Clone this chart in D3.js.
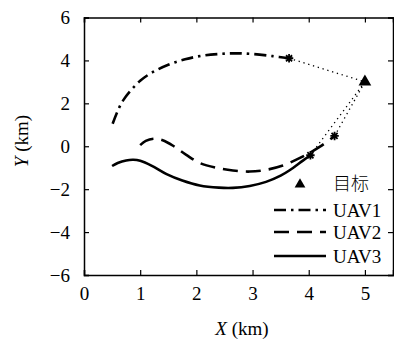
<!DOCTYPE html>
<html>
<head>
<meta charset="utf-8">
<script src="https://cdn.jsdelivr.net/npm/d3@7"></script>
<style>
  html, body { margin: 0; padding: 0; background: #fff; }
  svg { display: block; }
</style>
</head>
<body>
<div id="chart"></div>
<script>
// trajectories (km)
const uav1 = [[0.51,1.05],[0.6,1.65],[0.7,2.15],[0.85,2.65],[1.0,3.05],[1.2,3.42],[1.5,3.8],[1.8,4.05],[2.1,4.22],[2.4,4.3],[2.7,4.33],[3.0,4.3],[3.36,4.2],[3.65,4.1]];
const uav2 = [[1.0,0.05],[1.1,0.25],[1.25,0.35],[1.4,0.28],[1.6,0.0],[1.82,-0.4],[2.06,-0.78],[2.35,-1.0],[2.65,-1.13],[2.95,-1.18],[3.24,-1.1],[3.54,-0.9],[3.78,-0.62],[4.0,-0.33],[4.2,-0.02],[4.46,0.48]];
const uav3 = [[0.5,-0.92],[0.6,-0.78],[0.75,-0.66],[0.88,-0.63],[1.0,-0.68],[1.2,-0.9],[1.47,-1.3],[1.75,-1.6],[2.06,-1.83],[2.4,-1.93],[2.65,-1.94],[2.95,-1.85],[3.24,-1.66],[3.5,-1.37],[3.66,-1.12],[3.89,-0.68],[4.03,-0.42]];
const target = [5.0, 3.0];
const xTicks = [0, 1, 2, 3, 4, 5];
const yTicks = [-6, -4, -2, 0, 2, 4, 6];
const seriesNames = ['UAV1', 'UAV2', 'UAV3'];
const targetName = '目标';

const W = 394, H = 340;
const serif = '"Liberation Serif", serif';
const svg = d3.select('#chart').append('svg')
  .attr('width', W).attr('height', H)
  .style('font-family', serif);

const x = d3.scaleLinear().domain([0, 5.5]).range([84, 393]);
const y = d3.scaleLinear().domain([-6, 6]).range([275, 17.5]);

const tickFmt = d => d < 0 ? '\u2212' + Math.abs(d) : String(d);

// axes (ticks inward, mirrored on top and right)
svg.append('g').attr('transform', `translate(0,${y(-6)})`)
  .call(d3.axisBottom(x).tickValues(xTicks).tickSize(-5).tickPadding(12).tickFormat(tickFmt));
svg.append('g').attr('transform', `translate(0,${y(6)})`)
  .call(d3.axisTop(x).tickValues(xTicks).tickSize(-5).tickFormat(''));
svg.append('g').attr('transform', `translate(${x(0)},0)`)
  .call(d3.axisLeft(y).tickValues(yTicks).tickSize(-5).tickPadding(14).tickFormat(tickFmt));
svg.append('g').attr('transform', `translate(${x(5.5)},0)`)
  .call(d3.axisRight(y).tickValues(yTicks).tickSize(-5).tickFormat(''));

svg.selectAll('g').attr('font-family', serif);
svg.selectAll('.domain').attr('stroke', '#000').attr('stroke-width', 1.5);
svg.selectAll('.tick line').attr('stroke', '#000').attr('stroke-width', 1.2);
svg.selectAll('.tick text').attr('fill', '#000').style('font-size', '19px').style('font-family', serif);

// axis titles
svg.append('text').attr('x', 242).attr('y', 335).attr('text-anchor', 'middle')
  .style('font-size', '19px')
  .html('<tspan font-style="italic">X</tspan> (km)');
svg.append('text').attr('transform', 'translate(28,141) rotate(-90)').attr('text-anchor', 'middle')
  .style('font-size', '19px')
  .html('<tspan font-style="italic">Y</tspan> (km)');

const line = d3.line().x(d => x(d[0])).y(d => y(d[1])).curve(d3.curveCatmullRom.alpha(0.5));

// dotted links from each end point to the target
[uav1, uav2, uav3].forEach(s => {
  svg.append('path').attr('d', d3.line()([[x(s[s.length-1][0]), y(s[s.length-1][1])], [x(target[0]), y(target[1])]]))
    .attr('fill', 'none').attr('stroke', '#000').attr('stroke-width', 1.3)
    .attr('stroke-dasharray', '1.3,3.7');
});

const dashes = ['12,5,2.5,5', '15,8', null];
[uav1, uav2, uav3].forEach((s, i) => {
  svg.append('path').datum(s).attr('d', line)
    .attr('fill', 'none').attr('stroke', '#000').attr('stroke-width', 2.6)
    .attr('stroke-dasharray', dashes[i]);
});

// asterisk end markers
function star(g, cx, cy, r) {
  const a = r * 0.72;
  g.append('path')
    .attr('d', `M${cx-r},${cy}H${cx+r}M${cx},${cy-r}V${cy+r}M${cx-a},${cy-a}L${cx+a},${cy+a}M${cx-a},${cy+a}L${cx+a},${cy-a}`)
    .attr('stroke', '#000').attr('stroke-width', 1.8);
}
[uav1, uav2, uav3].forEach(s => {
  const p = s[s.length - 1];
  star(svg, x(p[0]), y(p[1]), 4.2);
});

// target
const tri = d3.symbol().type(d3.symbolTriangle);
svg.append('path').attr('d', tri.size(70)())
  .attr('transform', `translate(${x(target[0])},${y(target[1])})`).attr('fill', '#000');

// legend
const lg = svg.append('g');
lg.append('path').attr('d', tri.size(50)()).attr('transform', 'translate(300,184.5)').attr('fill', '#000');
lg.append('text').attr('x', 333).attr('y', 190).text(targetName)
  .style('font-family', '"Noto Sans CJK SC", sans-serif').style('font-size', '18px').style('font-weight', 300);
const ly = [210, 232, 256];
seriesNames.forEach((n, i) => {
  lg.append('line').attr('x1', 274).attr('x2', 326).attr('y1', ly[i]).attr('y2', ly[i])
    .attr('stroke', '#000').attr('stroke-width', 2.6).attr('stroke-dasharray', dashes[i]);
  lg.append('text').attr('x', 333).attr('y', ly[i] + 6.5).text(n).style('font-size', '19px');
});
</script>
</body>
</html>
